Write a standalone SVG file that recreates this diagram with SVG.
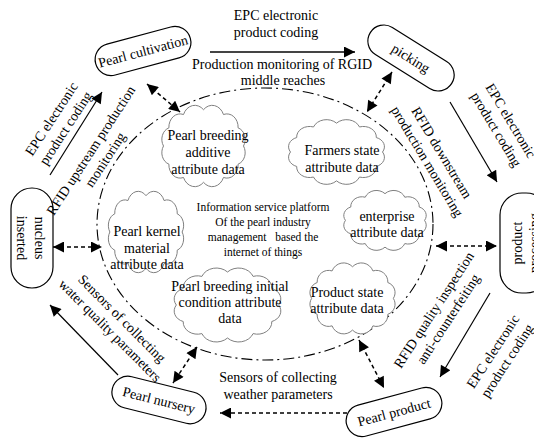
<svg xmlns="http://www.w3.org/2000/svg" xmlns:xlink="http://www.w3.org/1999/xlink" width="534" height="438" viewBox="0 0 534 438">
<style>
text{font-family:"Liberation Serif","Times New Roman",serif;font-size:14px;fill:#000;text-anchor:middle}
.small{font-size:11.5px;white-space:pre}
.node{fill:#fff;stroke:#000;stroke-width:1.2}
.cloud{fill:#fff;stroke:#808080;stroke-width:1;vector-effect:non-scaling-stroke}
.ring{fill:none;stroke:#000;stroke-width:1.1;stroke-dasharray:11 4 2 4}
.solid{fill:none;stroke:#000;stroke-width:1.2}
.dash{fill:none;stroke:#000;stroke-width:1.5;stroke-dasharray:4 3}
</style>
<defs>
<marker id="ah" viewBox="0 0 10 10" refX="10" refY="5" markerWidth="14" markerHeight="11" orient="auto-start-reverse" markerUnits="userSpaceOnUse"><path d="M0,0 L10,5 L0,10 Z" fill="#000"/></marker>
<path id="cloudshape" class="cloud" d="M7,40 A11,11 0 0 1 12.8,23.5 A12,12 0 0 1 28.5,11.4 A13,13 0 0 1 50,7 A13,13 0 0 1 71.5,11.4 A12,12 0 0 1 87.2,23.5 A11,11 0 0 1 93,40 A11,11 0 0 1 87.2,56.5 A12,12 0 0 1 71.5,68.6 A13,13 0 0 1 50,73 A13,13 0 0 1 28.5,68.6 A12,12 0 0 1 12.8,56.5 A11,11 0 0 1 7,40 Z"/>
</defs>
<rect width="534" height="438" fill="#fff"/>

<ellipse class="ring" cx="265" cy="224" rx="168" ry="136"/>

<g id="platform">
<text class="small" x="263" y="211">Information service platform</text>
<text class="small" x="263" y="226">Of the pearl industry</text>
<text class="small" x="263" y="241">management   based the</text>
<text class="small" x="263" y="256">internet of things</text>
</g>

<g id="cloud-additive">
<use xlink:href="#cloudshape" transform="translate(157,102) scale(0.93,1.1)"/>
<text x="208" y="140">Pearl breeding</text>
<text x="208" y="157">additive</text>
<text x="208" y="174">attribute data</text>
</g>
<g id="cloud-farmers">
<use xlink:href="#cloudshape" transform="translate(283,117) scale(1.07,0.875)"/>
<text x="342" y="155">Farmers state</text>
<text x="342" y="172">attribute data</text>
</g>
<g id="cloud-kernel">
<use xlink:href="#cloudshape" transform="translate(104,188) scale(0.84,1.1)"/>
<text x="147" y="236">Pearl kernel</text>
<text x="147" y="253">material</text>
<text x="147" y="269">attribute data</text>
</g>
<g id="cloud-enterprise">
<use xlink:href="#cloudshape" transform="translate(339,188) scale(0.92,0.81)"/>
<text x="387" y="221">enterprise</text>
<text x="387" y="237">attribute data</text>
</g>
<g id="cloud-initial">
<use xlink:href="#cloudshape" transform="translate(168,265) scale(1.19,1.0)"/>
<text x="230" y="291">Pearl breeding initial</text>
<text x="230" y="307">condition attribute</text>
<text x="230" y="323">data</text>
</g>
<g id="cloud-product-state">
<use xlink:href="#cloudshape" transform="translate(305,260) scale(0.95,0.96)"/>
<text x="347" y="297">Product state</text>
<text x="347" y="313">attribute data</text>
</g>

<g id="pearl-cultivation" transform="translate(143,51) rotate(-15)">
<rect class="node" x="-49" y="-16" width="98" height="32" rx="16"/>
<text x="0" y="5">Pearl cultivation</text>
</g>
<g id="picking" transform="translate(411,58) rotate(32)">
<rect class="node" x="-48" y="-16" width="96" height="32" rx="16"/>
<text x="0" y="5">picking</text>
</g>
<g id="product-processing">
<rect class="node" x="500" y="193" width="48" height="100" rx="22"/>
<g transform="translate(524,243) rotate(-90)">
<text x="0" y="-2.3">product</text>
<text x="0" y="14.7">processing</text>
</g>
</g>
<g id="pearl-product" transform="translate(394,412) rotate(-15)">
<rect class="node" x="-49" y="-16" width="98" height="32" rx="16"/>
<text x="0" y="5">Pearl product</text>
</g>
<g id="pearl-nursery" transform="translate(159,400) rotate(14)">
<rect class="node" x="-48" y="-16" width="96" height="32" rx="16"/>
<text x="0" y="5">Pearl nursery</text>
</g>
<g id="nucleus-inserted">
<rect class="node" x="11" y="188" width="42" height="100" rx="21"/>
<g transform="translate(32,238) rotate(90)">
<text x="0" y="-3.3">nucleus</text>
<text x="0" y="14.7">inserted</text>
</g>
</g>

<g id="connectors">
<path d="M210,52 L355,52" fill="none" stroke="#444" stroke-width="2" marker-end="url(#ah)"/>
<path class="solid" d="M50,175 L102,92" marker-end="url(#ah)"/>
<path class="solid" d="M450,102 L497,182" marker-end="url(#ah)"/>
<path class="solid" d="M490,293 L440,377" marker-end="url(#ah)"/>
<path class="solid" d="M118,375 L50,305" marker-end="url(#ah)"/>
<path class="dash" d="M147,84 L180,112" marker-start="url(#ah)" marker-end="url(#ah)"/>
<path class="dash" d="M392,72 L367,112" marker-start="url(#ah)" marker-end="url(#ah)"/>
<path class="dash" d="M53,247 L102,247" marker-start="url(#ah)" marker-end="url(#ah)"/>
<path class="dash" d="M436,246 L497,246" marker-start="url(#ah)" marker-end="url(#ah)"/>
<path class="dash" d="M197,347 L173,383" marker-start="url(#ah)" marker-end="url(#ah)"/>
<path class="dash" d="M359,340 L384,388" marker-start="url(#ah)" marker-end="url(#ah)"/>
<path class="dash" d="M347,413 L220,413" marker-end="url(#ah)"/>
</g>

<g id="labels">
<text x="276" y="20">EPC electronic</text>
<text x="276" y="37">product coding</text>
<text x="282" y="69">Production monitoring of RGID</text>
<text x="283" y="85">middle reaches</text>
<g transform="translate(58.5,123.5) rotate(-57)">
<text x="0" y="-3.8">EPC electronic</text>
<text x="0" y="13.2">product coding</text>
</g>
<g transform="translate(98,155) rotate(-57)">
<text x="0" y="-3.8">RFID upstream production</text>
<text x="0" y="13.2">monitoring</text>
</g>
<g transform="translate(503.5,125) rotate(59)">
<text x="0" y="-3.8">EPC electronic</text>
<text x="0" y="13.2">product coding</text>
</g>
<g transform="translate(434.5,157) rotate(59)">
<text x="0" y="-3.8">RFID downstream</text>
<text x="0" y="13.2">production monitoring</text>
</g>
<g transform="translate(500,356) rotate(-57)">
<text x="0" y="-3.8">EPC electronic</text>
<text x="0" y="13.2">product coding</text>
</g>
<g transform="translate(441,314.5) rotate(-57)">
<text x="0" y="-3.8">RFID quality inspection</text>
<text x="0" y="13.2">anti-counterfeiting</text>
</g>
<g transform="translate(116,324.5) rotate(45)">
<text x="0" y="-3.8">Sensors of collecting</text>
<text x="0" y="13.2">water quality parameters</text>
</g>
<text x="278" y="382">Sensors of collecting</text>
<text x="278" y="399">weather parameters</text>
</g>
</svg>
